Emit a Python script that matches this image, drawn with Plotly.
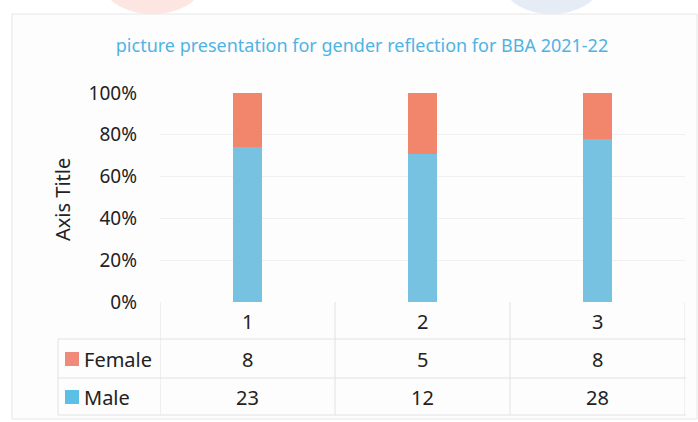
import plotly.graph_objects as go

categories = ["1", "2", "3"]
female = [8, 5, 8]
male = [23, 12, 28]
y_ticks = [0, 20, 40, 60, 80, 100]
y_tick_labels = ["0%", "20%", "40%", "60%", "80%", "100%"]
series_names = ["Female", "Male"]
chart_title = "picture presentation for gender reflection for BBA 2021-22"
axis_title = "Axis Title"

W, H = 698, 422
# plot area in pixels
PL, PR, PT, PB = 160, 685, 93, 302
FONT = "Noto Sans"
TXT = "#222222"

def px(x):
    return (x - PL) / (PR - PL)

def py(y):
    return (PB - y) / (PB - PT)

male_color = "#76c2e0"
female_color = "#f2866c"

fig = go.Figure()
fig.add_trace(go.Bar(x=categories, y=male, name="Male", marker_color=male_color,
                     width=0.17, marker_line_width=0))
fig.add_trace(go.Bar(x=categories, y=female, name="Female", marker_color=female_color,
                     width=0.17, marker_line_width=0))

shapes = []
annotations = []
line_col = "#e2e2e2"

# faint scan blobs at the top edge
shapes.append(dict(type="circle", xref="paper", yref="paper", layer="below",
                   x0=px(105), x1=px(200), y0=py(14), y1=py(-40),
                   fillcolor="#fde6e2", line_width=0))
shapes.append(dict(type="circle", xref="paper", yref="paper", layer="below",
                   x0=px(505), x1=px(598), y0=py(14), y1=py(-40),
                   fillcolor="#e6ecf5", line_width=0))

# outer chart border
shapes.append(dict(type="rect", xref="paper", yref="paper", layer="below",
                   x0=px(12), x1=px(697), y0=py(14), y1=py(419),
                   line=dict(color="#e6e6e6", width=1), fillcolor="#fdfdfd"))

# data table lines
for r in [339, 378, 415]:
    shapes.append(dict(type="line", xref="paper", yref="paper",
                       x0=px(58), x1=px(686), y0=py(r), y1=py(r),
                       line=dict(color=line_col, width=1)))
shapes.append(dict(type="line", xref="paper", yref="paper",
                   x0=px(58), x1=px(58), y0=py(339), y1=py(415),
                   line=dict(color=line_col, width=1)))
for i in range(len(categories) + 1):
    shapes.append(dict(type="line", xref="x", yref="paper",
                       x0=i - 0.5, x1=i - 0.5, y0=py(PB), y1=py(415),
                       line=dict(color=line_col, width=1)))

# category row
for i, c in enumerate(categories):
    annotations.append(dict(x=i, y=py(321), xref="x", yref="paper", text=c,
                            xanchor="center", yanchor="middle",
                            showarrow=False, font=dict(size=20, color=TXT)))

# series rows
rows = [("Female", female, "#f08a7a", 359), ("Male", male, "#5bbfe6", 397)]
for name, vals, col, yy in rows:
    shapes.append(dict(type="rect", xref="paper", yref="paper",
                       x0=px(65), x1=px(79), y0=py(yy - 7), y1=py(yy + 7),
                       fillcolor=col, line_width=0))
    annotations.append(dict(x=px(82), y=py(yy), xref="paper", yref="paper",
                            text=name, showarrow=False, xanchor="left",
                            yanchor="middle", font=dict(size=20, color=TXT)))
    for i, v in enumerate(vals):
        annotations.append(dict(x=i, y=py(yy), xref="x", yref="paper",
                                text=str(v), showarrow=False,
                                xanchor="center", yanchor="middle",
                                font=dict(size=20, color=TXT)))

# y axis title
annotations.append(dict(x=px(62), y=py(200), xref="paper", yref="paper",
                        text=axis_title, textangle=-90, showarrow=False,
                        xanchor="center", yanchor="middle",
                        font=dict(size=20, color=TXT)))

fig.update_layout(
    width=W, height=H,
    barmode="stack", barnorm="percent",
    showlegend=False,
    paper_bgcolor="white", plot_bgcolor="rgba(0,0,0,0)",
    font=dict(family=FONT, color=TXT),
    margin=dict(l=PL, r=W - PR, t=PT, b=H - PB),
    title=dict(text=chart_title, x=362 / W, y=1 - 46 / H, xanchor="center",
               yanchor="middle", xref="container", yref="container",
               font=dict(size=18, color="#4fb3e3", family=FONT)),
    xaxis=dict(range=[-0.5, 2.5], showticklabels=False, showgrid=False,
               zeroline=False, showline=False),
    yaxis=dict(range=[0, 100], tickvals=y_ticks, ticktext=y_tick_labels,
               showgrid=True, gridcolor="#f0f0f0", zeroline=False,
               tickfont=dict(size=19, color=TXT), ticks="",
               ticklabelstandoff=22),
    shapes=shapes,
    annotations=annotations,
)

# drop the default page margin so the figure sits at the window's corner
fig.write_html("out.html", config={"displayModeBar": False},
               post_script="document.body.style.margin='0';")
